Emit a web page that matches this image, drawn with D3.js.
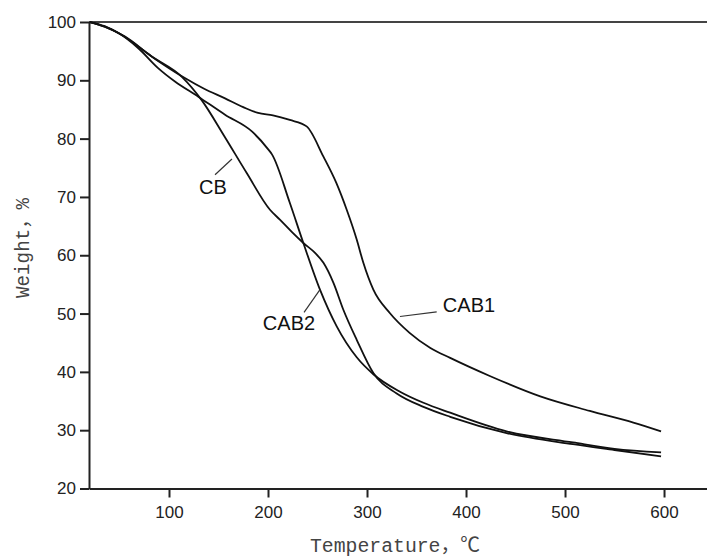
<!DOCTYPE html>
<html>
<head>
<meta charset="utf-8">
<script src="https://cdn.jsdelivr.net/npm/d3@7"></script>
<style>
  html, body { margin: 0; padding: 0; background: #fff; }
  svg { display: block; }
</style>
</head>
<body>
<svg id="chart" width="707" height="558"></svg>
<script>
// ---- data ----
const seriesNames = ["CAB1", "CB", "CAB2"];

const tempCAB1 = [20, 35, 55.6, 82.5, 116, 135, 156.6, 175, 190, 205, 222, 239, 256, 269, 279.5, 289.6, 296.3, 306.4, 323, 343, 364, 384, 424, 475, 525, 569, 597];
const weightCAB1 = [100, 99.2, 97.5, 94.1, 90.4, 88.6, 86.9, 85.4, 84.4, 84.0, 83.2, 82.1, 76.9, 72.4, 67.8, 62.7, 58.7, 54.1, 50.1, 46.7, 44.1, 42.4, 39.3, 35.8, 33.3, 31.3, 29.8];

const tempCB = [20, 35, 52, 82.5, 113, 133, 155.6, 178.5, 202, 212, 224, 235.7, 247.5, 256, 266, 276, 289.6, 306.4, 330, 357, 384, 441, 508, 550, 597];
const weightCB = [100, 99.3, 97.8, 94.1, 90.6, 86.6, 80.5, 74.1, 67.8, 66.1, 64.0, 62.1, 60.4, 58.7, 55.3, 50.7, 45.5, 39.8, 36.3, 34.0, 32.3, 29.5, 27.6, 26.6, 25.5];

const tempCAB2 = [20, 35, 48.8, 69, 89, 106, 129.6, 156.6, 184, 200, 204, 222, 235.7, 252.5, 269.4, 289.6, 306.4, 333.3, 357, 384, 441, 508, 550, 597];
const weightCAB2 = [100, 99.2, 98.1, 95.5, 92.1, 89.8, 87.2, 84.1, 81.2, 78.2, 77.3, 69.0, 62.1, 54.1, 47.8, 42.5, 39.6, 36.6, 34.7, 33.0, 29.8, 27.9, 26.8, 26.2];

const xTicks = [100, 200, 300, 400, 500, 600];
const yTicks = [20, 30, 40, 50, 60, 70, 80, 90, 100];

// labels: name, text centre (T, W), leader from (T, W), leader to (T, W)
const labelNames = ["CB", "CAB2", "CAB1"];
const labelPos = [[144.4, 71.7], [221.2, 48.4], [403, 51.5]];
const leaderFrom = [[146.5, 73.8], [236.4, 50.2], [333.3, 49.5]];
const leaderTo = [[163.6, 76.5], [252.5, 54.1], [370.4, 50.3]];

// ---- layout ----
const svg = d3.select("#chart");
const x = d3.scaleLinear().domain([19.2, 643.4]).range([89, 707]);
const y = d3.scaleLinear().domain([20, 100]).range([488.5, 22]);

const axisColor = "#222";

// top frame line
svg.append("line")
  .attr("x1", x(19.2)).attr("x2", x(643.4))
  .attr("y1", y(100)).attr("y2", y(100))
  .attr("stroke", "#444").attr("stroke-width", 2);

// bottom axis
const gx = svg.append("g")
  .attr("transform", `translate(0,${y(20)})`)
  .call(d3.axisBottom(x).tickValues(xTicks).tickSize(9).tickSizeOuter(0).tickPadding(8));
// left axis
const gy = svg.append("g")
  .attr("transform", `translate(${x(19.2)},0)`)
  .call(d3.axisLeft(y).tickValues(yTicks).tickSize(9).tickSizeOuter(0).tickPadding(4));

[gx, gy].forEach(g => {
  g.select(".domain").attr("stroke", axisColor).attr("stroke-width", 2);
  g.selectAll(".tick line").attr("stroke", axisColor).attr("stroke-width", 2);
  g.selectAll(".tick text")
    .attr("fill", "#222")
    .style("font-family", "'Liberation Sans', Arial, sans-serif")
    .style("font-size", "17px");
});

// curves
const line = d3.line()
  .x(d => x(d[0]))
  .y(d => y(d[1]))
  .curve(d3.curveMonotoneX);

const series = [
  d3.zip(tempCAB1, weightCAB1),
  d3.zip(tempCB, weightCB),
  d3.zip(tempCAB2, weightCAB2)
];

svg.append("g").selectAll("path")
  .data(series)
  .join("path")
  .attr("d", line)
  .attr("fill", "none")
  .attr("stroke", "#111")
  .attr("stroke-width", 1.8)
  .attr("stroke-linejoin", "round");

// labels & leaders
labelNames.forEach((name, i) => {
  svg.append("line")
    .attr("x1", x(leaderFrom[i][0])).attr("y1", y(leaderFrom[i][1]))
    .attr("x2", x(leaderTo[i][0])).attr("y2", y(leaderTo[i][1]))
    .attr("stroke", "#333").attr("stroke-width", 1.2);
  svg.append("text")
    .attr("x", x(labelPos[i][0])).attr("y", y(labelPos[i][1]))
    .attr("text-anchor", "middle")
    .attr("dominant-baseline", "central")
    .attr("fill", "#111")
    .style("font-family", "'Liberation Sans', Arial, sans-serif")
    .style("font-size", "20px")
    .text(name);
});

// axis titles
svg.append("text")
  .attr("x", 310).attr("y", 552)
  .attr("textLength", 170)
  .attr("lengthAdjust", "spacingAndGlyphs")
  .attr("fill", "#444")
  .style("font-family", "'Liberation Mono', 'Noto Sans CJK SC', monospace")
  .style("font-size", "20px")
  .text("Temperature，℃");

svg.append("text")
  .attr("transform", "translate(29,298) rotate(-90)")
  .attr("x", 0).attr("y", 0)
  .attr("textLength", 100)
  .attr("lengthAdjust", "spacingAndGlyphs")
  .attr("fill", "#444")
  .style("font-family", "'Liberation Mono', 'Noto Sans CJK SC', monospace")
  .style("font-size", "20px")
  .text("Weight，%");
</script>
</body>
</html>
